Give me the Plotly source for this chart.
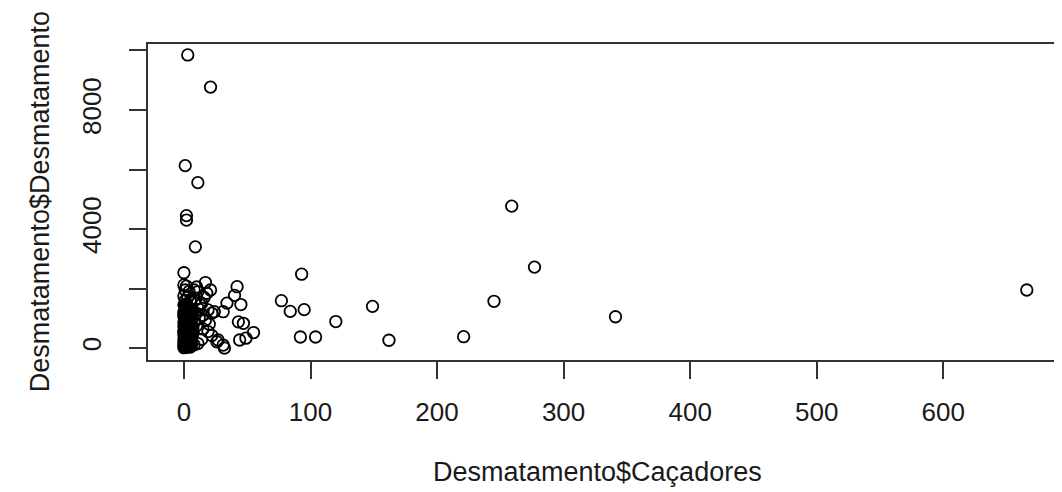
import plotly.graph_objects as go

# Desmatamento$Caçadores (x) and Desmatamento$Desmatamento (y)
cacadores = [
    3, 21, 1, 11, 2, 2, 9, 0,
    259, 277, 93, 77, 84, 95, 120, 149, 92, 104, 162, 221, 245, 341, 666,
    17, 42, 40, 45, 34, 31, 24, 43, 47, 55, 44, 49, 27, 31, 32, 19, 15, 17, 19, 22,
    18, 11, 9, 14, 14, 26, 12, 10, 20, 8, 12, 15, 22, 7, 11,
    0, 2, 1, 4, 0, 3, 1, 5, 0, 2, 4, 1, 3, 0, 6, 2, 0, 4, 1, 3, 0, 5, 2, 0,
    4, 1, 3, 0, 6, 2, 0, 4, 1, 3, 0, 5, 2, 0, 4, 1, 3, 0, 6, 7, 5, 2,
    1, 3, 5, 7, 0, 2, 4, 6, 8, 1, 3, 5, 7, 0, 2, 4, 6, 1, 3, 5, 8, 0, 2, 4, 7, 1, 3, 6,
    9, 13, 6, 16, 21, 10,
    2, 4, 6, 1, 3, 5, 2, 4, 6, 1, 3, 5, 2, 4, 6, 1, 3, 5, 2, 4,
]
desmatamento = [
    9850, 8770, 6130, 5560, 4450, 4300, 3400, 2530,
    4770, 2720, 2480, 1590, 1230, 1290, 890, 1400, 370, 370, 260, 380, 1570, 1050, 1950,
    2200, 2060, 1770, 1460, 1510, 1220, 1220, 880, 830, 520, 270, 330, 270, 100, 0, 550, 640, 940, 1280, 1170,
    1840, 1890, 1610, 1500, 290, 210, 1000, 750, 800, 1950, 1300, 1100, 420, 480, 150,
    2120, 2080, 1950, 1900, 1750, 1700, 1600, 1560, 1450, 1400, 1350, 1300, 1250, 1200, 1150, 1100, 1050, 1000, 950, 900, 850, 800, 760, 720,
    680, 640, 600, 560, 520, 480, 440, 400, 360, 320, 280, 240, 200, 160, 120, 80, 40, 10, 320, 700, 1250, 900,
    1420, 1380, 1300, 1200, 1130, 1060, 990, 930, 860, 790, 730, 660, 600, 540, 470, 410, 350, 290, 230, 170, 110, 60, 20, 250, 500, 1020, 560, 100,
    1180, 1450, 1650, 1700, 1950, 2050,
    1480, 1340, 1220, 1110, 1020, 940, 870, 780, 700, 620, 570, 450, 380, 300, 190, 140, 70, 30, 560, 850,
]

x_ticks = [0, 100, 200, 300, 400, 500, 600]
y_ticks = [0, 2000, 4000, 6000, 8000, 10000]
y_ticktext = ["0", "", "4000", "", "8000", ""]

FONT = "Liberation Sans, Arial, sans-serif"
INK = "#1a1a1a"

fig = go.Figure(
    go.Scatter(
        x=cacadores,
        y=desmatamento,
        mode="markers",
        marker=dict(symbol="circle-open", size=11.5, color="black",
                    line=dict(width=1.8, color="black")),
        hoverinfo="x+y",
    )
)

axis_common = dict(
    showline=True, mirror=True, linecolor="#333333", linewidth=1.5,
    ticks="outside", ticklen=17, tickwidth=1.5, tickcolor="#333333",
    showgrid=False, zeroline=False,
    tickfont=dict(family=FONT, size=26, color=INK),
)

# the page body keeps its default 8px margin, so the figure is 8px smaller each way
fig.update_layout(
    width=1054, height=484,
    margin=dict(l=140, r=6, t=36, b=132),
    paper_bgcolor="white", plot_bgcolor="white",
    showlegend=False,
    xaxis=dict(range=[-28.4, 687.5], tickvals=x_ticks,
               ticktext=[str(v) for v in x_ticks], ticklabelstandoff=11,
               **axis_common),
    yaxis=dict(range=[-403, 10218], tickvals=y_ticks, ticktext=y_ticktext,
               tickangle=-90, ticklabelstandoff=18, **axis_common),
    annotations=[
        dict(text="Desmatamento$Caçadores", xref="paper", yref="paper",
             x=0.4956, y=-0.354, xanchor="center", yanchor="middle",
             showarrow=False, font=dict(family=FONT, size=27, color=INK)),
        dict(text="Desmatamento$Desmatamento", xref="paper", yref="paper",
             x=-0.119, y=0.5, xanchor="center", yanchor="middle", textangle=-90,
             showarrow=False, font=dict(family=FONT, size=27, color=INK)),
    ],
)

fig.write_html("out.html")
